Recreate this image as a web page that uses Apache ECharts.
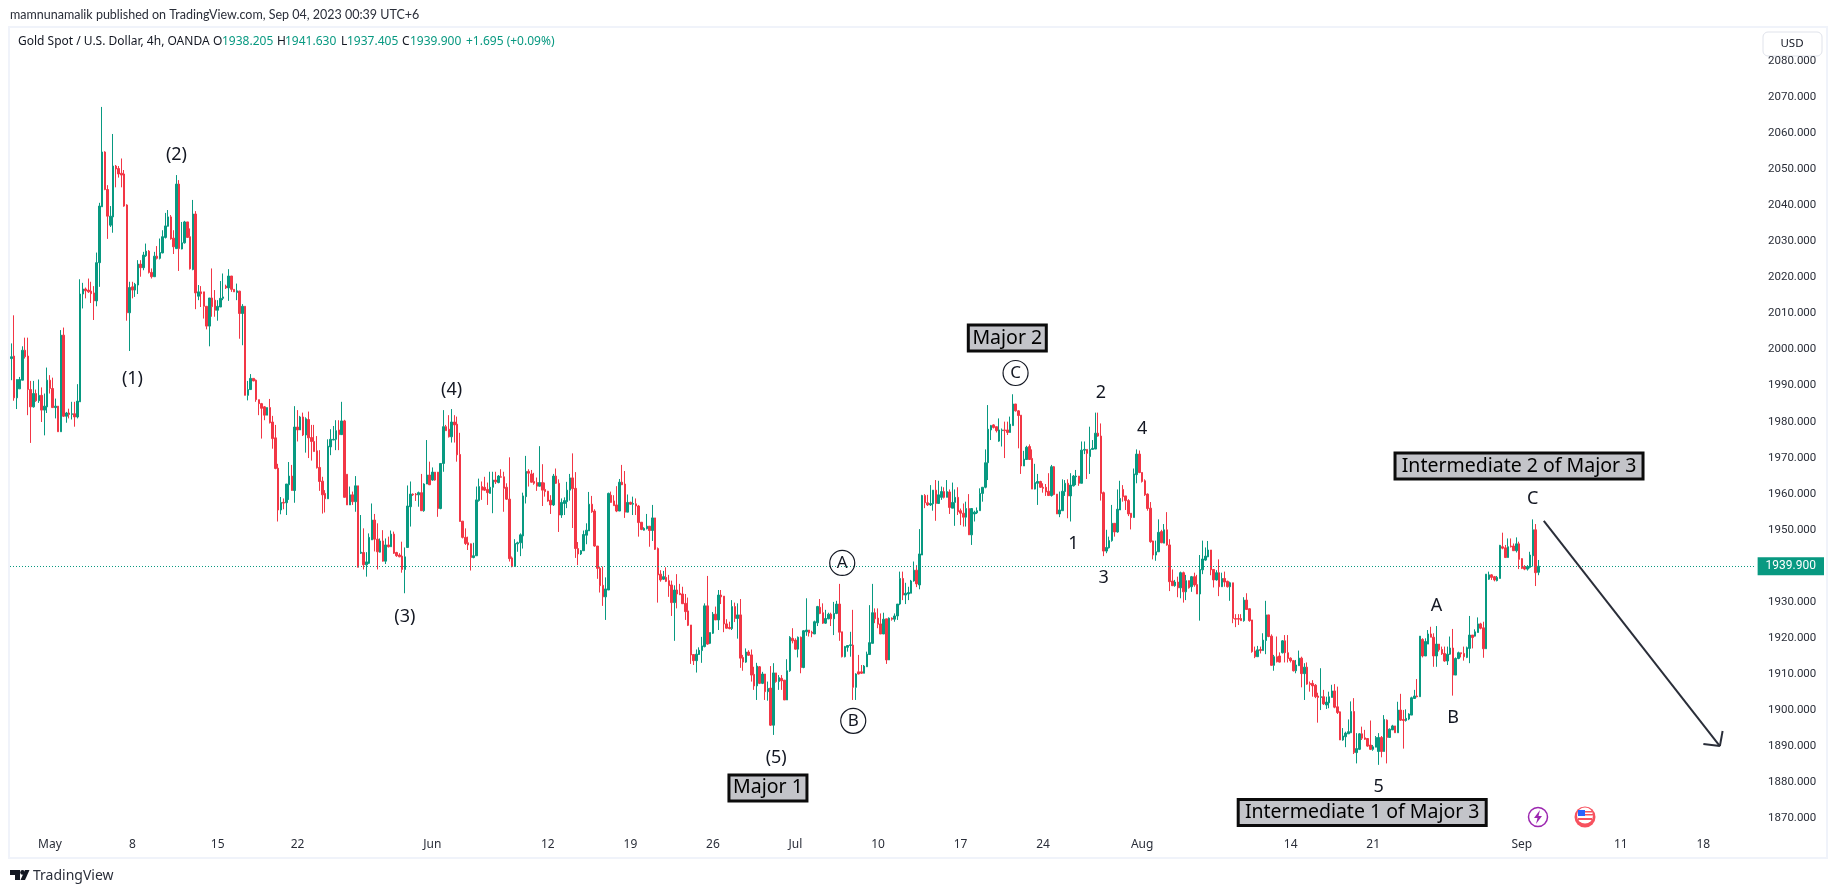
<!DOCTYPE html>
<html><head><meta charset="utf-8">
<style>html,body{margin:0;padding:0;background:#fff}#c{width:1835px;height:893px}</style>
<script src="https://cdn.jsdelivr.net/npm/echarts@6/dist/echarts.min.js"></script>
</head><body><div id="c"></div>
<script>
// candle rows: [open, close, low, high]
const barsMay=[[1997.5,1998,1991.5,2001.7],[1998.2,1986.6,1985.8,2009.5],[1986.6,1991.7,1983.5,1991.7],[1989.1,1991.7,1989.1,1992.4],[1991.5,1999.8,1991.5,2000.9],[1999.8,1998,1997.5,2003.3],[1998.2,1988.9,1981.8,2003.3],[1988.9,1984.1,1974.1,1991.3],[1984.1,1987.8,1983.9,1991.3],[1987.8,1985.8,1985.5,1988.9],[1985.8,1987.3,1985.2,1991.7],[1987.3,1983.2,1979.9,1989.5],[1983.2,1984.3,1976.2,1987.8],[1984.1,1991.5,1982.4,1995],[1991.5,1989.2,1987.8,1992.9],[1989.2,1983.9,1983.9,1992.2],[1983.9,1984.3,1980.9,1986.4],[1984.3,1977.2,1977.2,1984.3],[1977.2,2004,1977.2,2005.4],[2004,1981.5,1981.3,2006.1],[1981.5,1982.4,1979.7,1982.7],[1982.4,1982,1980.9,1983.6],[1982,1982.2,1980.6,1985.5],[1982.2,1981.3,1978.6,1985.5],[1981.3,1985.7,1980.9,1990.4],[1985.5,2015.4,1985.5,2019.5],[2015.4,2016.8,2011.4,2018.5],[2016.8,2016.3,2014.2,2017.2],[2016.5,2016,2015.7,2019.7],[2016.2,2015.5,2012.9,2018.8],[2015.7,2013.5,2008.2,2017.6],[2013.5,2024.1,2012,2026.9],[2024.1,2039.8,2017.4,2040.7],[2039.6,2054.8,2039.6,2067.3],[2054.8,2044.4,2044.2,2055],[2044.4,2037,2030.7,2045.6],[2034.5,2037,2034,2039.8],[2036.8,2050.9,2032.4,2059.8],[2050.9,2050.1,2045,2051.2],[2050.2,2048.7,2047.7,2050.9],[2048.9,2048.4,2045,2053],[2048.7,2039.8,2039.6,2049.8],[2040.1,2010.2,2008,2040.3],[2010.2,2017.2,1999.6,2018.8],[2017.4,2016.5,2014.2,2018.8],[2016.5,2018.1,2014.6,2018.5],[2017.9,2023.7,2015.4,2024.8],[2023.7,2022.7,2020.2,2024.8],[2022.7,2026.2,2022,2027.1],[2026,2027.3,2025.7,2029.4],[2027.3,2021.4,2021.1,2027.6],[2021.4,2020.2,2019.7,2022.5],[2020.2,2025.9,2020.2,2027.1],[2025.9,2025.3,2025,2028.7],[2025.3,2026.9,2025,2030.8],[2026.8,2031.3,2026.7,2033.1],[2031.1,2034.3,2030.8,2037.9],[2034.2,2036.8,2034.1,2038.7],[2036.8,2030.7,2030.5,2037.3],[2030.9,2028.5,2026.5,2033.1],[2028,2045.9,2028,2048.4],[2045.9,2028,2021.8,2047],[2027.9,2029.6,2027.8,2035.4],[2029.6,2035.4,2029.4,2035.7],[2035.4,2031.1,2031.1,2035.4],[2031.3,2022.4,2022.2,2033.6],[2022.2,2037.6,2022,2041.5],[2037.6,2015.7,2011.2,2038.4],[2014.8,2016,2013.7,2017.9],[2016,2015.5,2011.8,2017.6],[2016,2012,2008.6,2016],[2012,2006.5,2005.6,2012],[2006.5,2014.3,2000.9,2014.3],[2014.3,2011.9,2009.1,2022.5],[2013.7,2010.9,2009.1,2016.5],[2010.9,2012,2008,2013.7],[2011.8,2014.2,2011.8,2019],[2014.2,2014.6,2013.7,2021.1],[2017.6,2017.1,2016.8,2018],[2017.1,2020.4,2013.5,2022.3],[2020.4,2016.7,2016,2020.4],[2016.7,2016,2016,2016.7],[2015.8,2016.3,2013.7,2018.3],[2016.2,2010,2003,2016.3],[2010,2012,2001.2,2012.6],[2012,1987.3,1987.3,2012],[1987.3,1988.9,1985.9,1991.3],[1988.9,1992,1988.9,1993.2],[1992,1991.3,1991.2,1992],[1991.5,1986.1,1985.5,1991.7],[1986.1,1985,1981.8,1986.1],[1985,1983.7,1975.3,1985.2],[1984.1,1981.8,1980.4,1984.3]];
const barsJun=[[1981.8,1983.9,1981.8,1983.9],[1983.9,1979.7,1979.5,1986.3],[1979.9,1975.3,1972.5,1981.6],[1975.5,1967,1966.8,1979.1],[1967.1,1955.5,1952.3,1968.3],[1955.5,1957.6,1954.3,1959.1],[1957.6,1957.4,1955.7,1958.7],[1957.5,1962.7,1954.1,1962.7],[1962.5,1964.9,1958.3,1968.8],[1964.9,1960.9,1960.9,1968],[1960.9,1978.5,1957.5,1984.3],[1978.5,1977.7,1974.5,1983.2],[1977.7,1981.3,1977.7,1981.6],[1981.3,1976.3,1976,1982.5],[1976.3,1980.8,1971.4,1981.2],[1980.6,1975.5,1969.9,1982.8],[1975.6,1974.5,1969.2,1979.1],[1974.5,1971.7,1971.7,1979.1],[1971.9,1967.2,1967,1976],[1967.3,1963.4,1960.8,1972.1],[1963.5,1959.7,1954.5,1964.7],[1960.1,1958.6,1954.8,1961],[1958.6,1973.2,1958.6,1975.1],[1973,1975.1,1970.7,1977.9],[1974.9,1975.1,1974.9,1978.8],[1975.1,1977.5,1972.1,1980.4],[1977.7,1976.4,1972.1,1980.4],[1976.4,1980.2,1976.4,1985.5],[1980.2,1959,1959,1980.5],[1965.4,1956.9,1956.9,1965.4],[1956.9,1959.7,1956.9,1962],[1959.7,1957.8,1956.9,1960.6],[1957.8,1962.2,1955,1964.9],[1962.2,1939.6,1939.6,1962.2],[1943.5,1943.8,1943.3,1954.1],[1943.7,1940.3,1939,1950.4],[1940.3,1941.1,1937,1943.8],[1940.7,1947.9,1940.5,1949],[1947.2,1952.7,1947.2,1957.3],[1952.7,1947.4,1944,1954.4],[1947.4,1943.9,1939,1951.8],[1943.8,1946.9,1943.7,1947.6],[1946.9,1941.3,1941.2,1949.9],[1941.3,1945.8,1940.5,1947.6],[1945.8,1945.3,1945.1,1948.1],[1945.3,1948.8,1945.3,1949.8],[1948.8,1943.5,1943.3,1949.5],[1943.7,1942.8,1942.5,1943.9],[1943,1942.5,1942.4,1943.5],[1942.7,1939,1938.1,1946.7],[1939,1942.5,1932.4,1945.1],[1945.1,1956.6,1945.1,1962.3],[1956.4,1959.9,1950.9,1963.4],[1959.9,1959.7,1959.4,1960.1],[1959.9,1959.7,1958,1960.2],[1959.7,1960.3,1956.4,1960.6],[1960.3,1955.3,1955.3,1965.5],[1955.3,1962.7,1955,1962.9],[1962.7,1965.2,1962.7,1974.9],[1965.2,1962.5,1962.4,1968.9],[1963.8,1966,1963.6,1967.3],[1966,1963.8,1963.6,1966],[1966,1955.9,1953.6,1966],[1955.9,1968.4,1955.7,1968.4],[1968.4,1978.6,1966.1,1983.2],[1978.6,1977.5,1977.5,1979.1],[1977.9,1975.8,1975.6,1981.8],[1975.8,1979.9,1974.2,1983.5],[1979.9,1979.1,1974.2,1981.8],[1979.3,1970.8,1968.9,1981.4],[1970.9,1952.3,1952.3,1976.9],[1952.4,1947.9,1947.6,1952.4],[1947.9,1946.2,1945.8,1950.4],[1946.4,1945.8,1944.4,1948.1],[1946.1,1942.3,1938.7,1946.2],[1942.3,1942.8,1942.1,1946.4],[1942.8,1958.3,1942.8,1962],[1958.1,1962,1957.8,1964.2],[1962,1961,1958.3,1963.4],[1961.8,1961,1960.8,1964.7],[1961.2,1960.3,1956.9,1963.1],[1960.1,1961.8,1960.1,1966.1],[1961.8,1963.8,1954.6,1966.1],[1963.8,1963.3,1962.7,1966.1],[1963.1,1964.9,1962.9,1965.2],[1964.7,1964.6,1964.5,1966.8],[1964.7,1961.5,1955,1966.1],[1961.8,1958.5,1958.3,1962.9],[1958.5,1942,1941.2,1970.1],[1942.2,1939.8,1939.6,1942.6],[1939.8,1946.2,1939.8,1947.4],[1946.1,1946.4,1943.9,1946.7],[1946.4,1948.6,1942.7,1949],[1948.3,1959.4,1944.8,1960.3]];
const barsLateJun=[[1959.2,1966.2,1957.3,1970.5],[1966.2,1965.7,1962,1966.8],[1965.5,1963.2,1963.1,1966.6],[1963.4,1962.9,1962.5,1965.8],[1963.1,1962.1,1960.8,1964.5],[1962.1,1963.1,1962,1973.2],[1963.1,1961,1956.6,1968.2],[1961.2,1960.6,1959.2,1963.1],[1960.7,1958,1957.8,1960.8],[1958.2,1956.9,1954.4,1959.6],[1956.9,1964.9,1956.6,1965.5],[1964.9,1962.9,1962.7,1967],[1962.9,1954.1,1949.4,1964],[1954.1,1957.6,1953.3,1958.7],[1957.3,1958.1,1954.1,1959],[1957.8,1961,1956,1963.3],[1961,1964.4,1958.1,1965.5],[1964.4,1961.4,1950.5,1971.2],[1961.5,1944.8,1942.2,1966],[1944.8,1943.3,1940.2,1946.6],[1943.3,1944.2,1943,1944.4],[1944.2,1948.7,1944.2,1949.8],[1948.5,1949.9,1946,1951.8],[1949.7,1957.1,1949.7,1960.5],[1957.1,1955,1954.7,1959.4],[1955.2,1945.5,1945.3,1955.7],[1945.5,1939.3,1936.4,1945.5],[1939.3,1934.5,1932.6,1939.8],[1934.6,1931.4,1928.9,1939.8],[1931.4,1933.6,1925,1936.8],[1933.3,1960.1,1933.3,1960.3],[1959.6,1957.6,1957.5,1960.6],[1958,1956.7,1956.7,1959.6],[1956.9,1955.2,1954.9,1962.1],[1955.2,1963.2,1955.2,1964.1],[1963.2,1962.5,1962.4,1968],[1962.7,1954.9,1953.3,1966.3],[1954.9,1957.6,1954.9,1959.8],[1957.6,1957.1,1956.9,1957.8],[1957.1,1957.3,1954.1,1959.2],[1957.2,1956.6,1954.1,1958.7],[1956.6,1952,1948.1,1956.9],[1952.1,1950.1,1949.9,1952.1],[1949.9,1950.4,1949.8,1950.7],[1950.3,1951,1950.1,1954.4],[1951,1949.8,1945.3,1951],[1949.8,1953.3,1946.9,1956.9],[1953.3,1944.6,1944.4,1953.3],[1944.8,1937.5,1929.8,1945.1],[1937.7,1936.1,1935.6,1938.8],[1936.3,1937,1936.1,1938.6],[1936.8,1935.7,1935.5,1939.6],[1935.9,1934.5,1931.4,1937.5],[1934.7,1929.8,1926.1,1935.9],[1929.8,1933.3,1919.2,1934.6],[1933.3,1932.2,1928.2,1937.7],[1932.4,1932,1931.9,1935],[1932.2,1929.5,1929.4,1934.2],[1929.6,1927.3,1925,1932.2],[1927.5,1923.5,1923.3,1931.2],[1923.6,1915.3,1912.8,1923.6],[1915.4,1913.7,1912.5,1915.4],[1913.7,1915.5,1910.4,1916.8],[1915.4,1916.6,1915.3,1917.4],[1916.5,1917.8,1913.1,1920.3],[1917.6,1928.9,1917.4,1929.6],[1928.9,1918.3,1918.1,1937.2],[1918.5,1921.5,1918.3,1921.5],[1921.3,1926.6,1921.1,1927.2],[1926.6,1925,1925,1928.7],[1925,1931.9,1922.2,1933.3],[1931.9,1931.4,1929.4,1933.3],[1931.6,1923.9,1921.6,1931.6],[1923.9,1922.7,1922.6,1925.2],[1922.9,1922.6,1922.4,1924.5],[1922.6,1928.7,1922.2,1930.5],[1928.7,1925.4,1924.4,1929.8],[1925.4,1926.4,1919.8,1929.6],[1926.4,1914.4,1911.7,1930.8],[1914.6,1913.3,1910.9,1915.3],[1913.3,1916.1,1913.1,1917.1],[1916.1,1915.2,1915,1916.6],[1915.3,1909.7,1907.9,1916.8],[1909.9,1906.7,1905.6,1912],[1906.7,1912.2,1902.8,1913.1],[1912,1907.4,1907.2,1912.2],[1907.4,1910,1907.2,1910.6],[1910,1905.1,1902.8,1910],[1905.1,1906,1902.6,1907.9],[1906.1,1895.8,1895.6,1912.2],[1895.8,1910.3,1893.1,1913],[1910.3,1907.9,1907.6,1910.3]];
const barsJul=[[1907.9,1909,1905.6,1909.7],[1908.8,1908.1,1905.6,1909.7],[1908.3,1902.8,1902.8,1908.3],[1902.8,1910.9,1902.8,1914.1],[1910.9,1920.2,1910.6,1920.5],[1919.9,1919.2,1918.5,1922.7],[1919.4,1916.9,1916.8,1919.9],[1916.9,1920.2,1914.6,1920.4],[1920.2,1911.8,1910.2,1920.4],[1911.8,1922,1911.6,1922.2],[1921.7,1922.2,1920.6,1931],[1922.2,1921.4,1920.4,1922.2],[1921.6,1921.3,1920.2,1922],[1921.1,1924.5,1921.1,1924.8],[1924.2,1928.7,1923.3,1928.9],[1928.5,1926.8,1926.6,1930.8],[1927,1924.1,1923.9,1929.6],[1924.1,1925.4,1923.9,1927.8],[1925.3,1926.6,1925.2,1927],[1926.6,1925.3,1923.3,1927],[1925.3,1926.8,1920.8,1930],[1926.8,1929.4,1926.6,1930.3],[1929.4,1921.6,1919.2,1935],[1921.7,1914.8,1914.6,1921.7],[1914.8,1917.6,1914.6,1917.8],[1917.4,1917.9,1916.2,1918],[1917.9,1918.1,1914.8,1921.7],[1918,1906.3,1902.8,1927.8],[1906.3,1910,1902.8,1910.2],[1910.6,1910,1909.9,1915.3],[1910.6,1910.2,1910,1912.5],[1910.2,1912.2,1910.2,1912.5],[1912,1915.5,1912,1916.2],[1915.4,1918.7,1915.3,1929.1],[1918.5,1927,1918.5,1935],[1927,1925.3,1924.1,1928.2],[1925.5,1923.8,1922.7,1928.2],[1923.9,1921.1,1921.1,1926.8],[1921.1,1925.2,1921.1,1927],[1925.3,1913.9,1912.8,1925.3],[1913.9,1925.5,1913.9,1925.7],[1925.5,1925.2,1924.8,1925.7],[1925.2,1926.1,1924.5,1926.8],[1926.1,1929.4,1925,1929.4],[1929.4,1936.5,1929.1,1938.4],[1936.5,1931.9,1930.5,1938.4],[1931.9,1932.4,1929.4,1935.3],[1932.2,1932.6,1930.5,1934.2],[1932.4,1935.8,1932.4,1936.1],[1935.8,1938.8,1935.6,1941.2],[1938.8,1935,1934.1,1940.2],[1934.7,1943.3,1933.5,1950.2],[1943,1959.5,1943,1959.7],[1959.5,1957.5,1956,1959.9],[1957.5,1956.9,1956.6,1959.7],[1956.9,1957.3,1956.6,1962.4],[1957.2,1961,1955.3,1961],[1961,1957.3,1952.5,1963.8],[1957.3,1959.7,1957.3,1963.6],[1959,1960.6,1958.3,1962],[1960.6,1959,1958.7,1961.8],[1959,1960.6,1959,1963.8],[1960.5,1956.2,1954.4,1961.2],[1956,1957.6,1956,1963.1],[1957.6,1959,1951.1,1961.2],[1959,1955,1954.1,1961.8],[1955.3,1954.6,1951.3,1955.9],[1954.6,1953.5,1950.9,1957.3],[1953.5,1955.9,1950.9,1957.8],[1955.9,1948.6,1948.6,1959.9],[1948.6,1955.9,1945.8,1955.9],[1954.4,1954.9,1952.3,1955.3],[1954.7,1955.3,1954.4,1956.2],[1955.3,1960.1,1955.3,1961.5],[1960.1,1961.8,1957.8,1961.8],[1961.8,1968.6,1961.5,1972.3],[1968.6,1977.9,1963.8,1984.6],[1977.7,1978.9,1974.9,1979.1],[1979.1,1978.4,1978.1,1979.3],[1978.6,1977.5,1977,1978.6],[1974.6,1977.7,1974.4,1980.9],[1977.5,1977.7,1973.1,1978.1],[1977.7,1977.5,1969.9,1980],[1977.7,1977,1976.3,1980],[1977,1979.3,1977,1981.4],[1978.9,1984.9,1978.9,1987.6],[1984.9,1983,1982.8,1984.9],[1983,1981.7,1972.6,1983.2],[1981.8,1967.7,1965.5,1981.8],[1967.7,1969.6,1967.7,1971.9],[1969.5,1972.9,1969.5,1973.3],[1973.1,1969.5,1969.4,1973.7]];
const barsAug=[[1969.8,1961.3,1961.3,1972.3],[1961.3,1963.1,1961.2,1968.3],[1962.9,1963.4,1956.9,1965.5],[1963.4,1961.8,1961.6,1963.6],[1961.8,1961.5,1960.3,1962.9],[1961.8,1960.5,1959.4,1962.7],[1960.7,1959.5,1959.4,1965.7],[1959.5,1967.5,1959.2,1968],[1967.5,1959.8,1959.6,1967.7],[1959.9,1954.4,1954.4,1959.9],[1954.4,1955.5,1953.5,1960.6],[1955.3,1960.7,1955.3,1964],[1960.6,1962.9,1959.4,1963.8],[1962.9,1959.4,1953.2,1964],[1959.4,1962.4,1952.3,1965.7],[1962.2,1964.9,1962,1965.2],[1964.7,1964.9,1962.4,1966.6],[1964.9,1962.9,1962.2,1964.9],[1962.9,1972.1,1962.9,1974.5],[1972.1,1972.3,1971,1974.5],[1972.3,1971.2,1964.1,1972.3],[1970.3,1972.3,1965.5,1978.6],[1972.3,1972.6,1972.3,1974.9],[1972.4,1976.8,1972.4,1982.5],[1976.8,1976,1975.8,1982.5],[1976,1960.1,1958.1,1979.5],[1960.3,1944.1,1942.7,1960.6],[1944.1,1945.1,1943.5,1950],[1945,1947,1944.8,1948.1],[1947,1951.8,1946.7,1956.9],[1951.8,1949.4,1948.1,1951.8],[1949.4,1955.7,1949.2,1961.2],[1955.5,1958.7,1955.5,1963.6],[1961.2,1959.2,1957.8,1962.4],[1959.4,1958.1,1955.5,1959.4],[1958.1,1954.4,1953.8,1958.5],[1954.6,1953.4,1950.1,1954.6],[1953.4,1965.5,1953.4,1967],[1965.3,1971,1962.9,1972.3],[1971,1965.9,1965.7,1972],[1965.9,1963.4,1963.1,1965.9],[1963.6,1959.7,1959.4,1964],[1959.9,1955.9,1955.3,1960.1],[1956,1946.7,1946.4,1957.7],[1946.9,1943,1941.8,1947],[1943,1943.9,1941.4,1947],[1943.9,1949.3,1943.9,1952.9],[1949.5,1946.4,1946.3,1950],[1946.3,1950,1946.3,1951.6],[1950,1945.8,1945.6,1954.9],[1945.8,1935.6,1933,1947.4],[1935.8,1934.5,1934.4,1939],[1934.5,1935.5,1934.2,1936.1],[1935.5,1933.9,1931.3,1937],[1933.9,1938.1,1931,1938.4],[1938.1,1932.8,1929.8,1938.4],[1932.8,1935.9,1930.5,1937.5],[1935.9,1933.9,1933.7,1935.9],[1934.2,1937,1932.8,1937.2],[1937,1934.7,1934.2,1938.1],[1934.8,1932.2,1932.2,1937.5],[1932.2,1939,1924.8,1943],[1938.9,1941.9,1937.7,1947],[1941.6,1942.7,1941.4,1945.1],[1942.5,1944.4,1942.4,1946.9],[1944.4,1938.9,1937.4,1944.4],[1939,1936.1,1934,1939],[1936.1,1938.1,1935.9,1938.8],[1938.1,1934.2,1931.6,1941.8],[1934.2,1936.5,1934.2,1938.1],[1936.5,1935.5,1934.2,1938.4],[1935.7,1934.2,1934,1935.9],[1934.2,1935.3,1930.3,1935.6],[1935.3,1925.4,1924.1,1935.3],[1925.4,1925.2,1923,1926.6],[1925.4,1925.2,1923.6,1926.6],[1925.4,1924.8,1924.8,1926.6],[1924.8,1930.5,1924.5,1931.3],[1930.5,1927.9,1927.8,1932.4],[1928.1,1924.8,1924.5,1928.2],[1925,1916.2,1915.9,1925],[1916.4,1914.8,1914.4,1917.6],[1914.8,1916.7,1914.8,1917.8],[1916.8,1916.5,1915.7,1917.6],[1916.5,1919.4,1916.5,1921.3],[1919.3,1926.4,1915.5,1930.3],[1926.4,1920.4,1920.2,1926.4],[1920.5,1912.4,1912.3,1921],[1912.4,1914.8,1910.9,1915.3],[1914.8,1913.4,1913.2,1920.4],[1915,1913.3,1913.2,1916],[1915.9,1919.2,1915.7,1919.4]];
const barsLateAug=[[1919.2,1915.9,1913.2,1920.8],[1915.9,1914.3,1913.2,1920.8],[1914.4,1913.7,1913.2,1914.6],[1913.7,1910.9,1910.7,1913.9],[1910.9,1912.5,1910.2,1913.9],[1912.3,1914.4,1912.3,1916.5],[1914.4,1910.1,1906.3,1914.8],[1910.1,1911.9,1902.8,1913],[1911.9,1907.2,1907,1913.2],[1907.4,1907.1,1905.1,1907.9],[1907.4,1906.7,1903.7,1908.3],[1906.9,1903.7,1903.3,1907.2],[1903.9,1903.5,1896.5,1904.8],[1903.5,1903.7,1900,1911.6],[1903.7,1901.7,1901.4,1905.6],[1901.4,1902.2,1900.3,1903.7],[1902,1903.7,1900.5,1905.1],[1903.5,1905.3,1903.5,1907],[1905.3,1900.8,1900.5,1907.2],[1900.9,1899.3,1898.9,1906.5],[1899.5,1891.7,1891.7,1899.6],[1891.7,1892.8,1891.5,1895],[1892.6,1893.6,1889.7,1894],[1893.4,1894,1893.4,1897.4],[1893.7,1899.6,1893.6,1902.4],[1899.6,1888.2,1887.8,1903.3],[1888.2,1889.3,1885.2,1893.6],[1889.1,1893.4,1888.9,1893.6],[1893.4,1892.2,1891.7,1895.4],[1892.3,1891.9,1891.7,1894.5],[1892.1,1890,1889.8,1892.2],[1890.3,1889.1,1888.9,1897.1],[1889.1,1889.8,1888.7,1890.3],[1889.7,1892.4,1889.7,1892.8],[1888.5,1892.4,1884.8,1893.6],[1892.4,1888.5,1886.9,1892.8],[1888.5,1897.4,1888.5,1898.6],[1897.2,1892.4,1885.2,1897.4],[1892.4,1894.7,1892.4,1894.9],[1894.5,1895.6,1894.5,1895.9],[1895.6,1893.7,1893.7,1895.6],[1893.7,1900,1893.7,1902.3],[1900,1897.2,1897,1904.5],[1897.4,1897.1,1889.3,1900],[1897.1,1897.7,1896.8,1900.2],[1897.5,1898.9,1897.2,1899.1],[1898.6,1903.4,1898.6,1903.7],[1903.2,1903.9,1903.2,1905.6],[1903.9,1903.7,1903.5,1908.6],[1903.7,1920.5,1903.7,1920.5],[1919.6,1915,1914.6,1919.9],[1915,1919,1915,1919.9],[1918.3,1921.1,1918.3,1922.2],[1921.1,1920.2,1920.2,1923.1],[1920.2,1915,1912,1921.3],[1915,1918.3,1912,1923.3],[1918.3,1916.7,1916.2,1918.3],[1916.8,1915.6,1915.3,1917.6],[1915.7,1913.6,1913.4,1917.6],[1913.6,1915.5,1912.5,1917.6],[1915.5,1917.2,1915.3,1920.4],[1917.2,1909.7,1904,1922.5],[1909.7,1914.3,1909.7,1914.6],[1914.3,1915.9,1914.1,1916.2],[1915.9,1915.6,1914.6,1915.9],[1915.7,1914.8,1913.7,1917.6],[1914.6,1917.3,1914.4,1917.6],[1917.1,1920.8,1913,1926.1],[1920.8,1920.1,1917.1,1920.8],[1920.5,1921.7,1920.4,1922.4],[1921.5,1923.9,1921.5,1925.7],[1923.9,1922.7,1922.4,1924.2],[1922.8,1917,1914.5,1924.5],[1917,1937.7,1917,1937.7],[1936.3,1937.5,1936.1,1938.4],[1937.5,1936.8,1936.1,1937.7],[1937,1936.1,1935.7,1937.2],[1935.9,1936.8,1935.7,1937.2],[1936.5,1945.7,1936.5,1945.8],[1945.3,1944.9,1944.6,1949.2],[1945,1942.3,1942.3,1945.8],[1942.3,1945.3,1942.3,1947.6],[1945.5,1945.3,1945.1,1947.6],[1945.5,1944.2,1944.2,1946.2],[1944.2,1946.1,1943.7,1947.9],[1946.1,1941.8,1939.1,1946.7],[1942,1939.3,1939.1,1942.1],[1939.8,1939.1,1938.8,1940.2],[1939.1,1939.8,1938.7,1940.2],[1939.6,1943,1939.3,1943.9],[1942.8,1950,1939.8,1952.9],[1950,1938.1,1934.4,1951.6],[1938.205,1939.9,1937.405,1941.63]];
const candles=[...barsMay,...barsJun,...barsLateJun,...barsJul,...barsAug,...barsLateAug];

const tickLabels=['May','8','15','22','Jun','12','19','26','Jul','10','17','24','Aug','14','21','Sep','11','18'];
const tickBars=[14,44,75,104,153,195,225,255,285,315,345,375,411,465,495,549,585,615];
const slotCount=635;
const lastPrice=1939.9;

// annotation anchors: text, bar slot, price
const waveLabels=[['(1)',44,1991.8],['(2)',60,2053.9],['(3)',143,1925.9],['(4)',160,1988.7],['(5)',278,1886.6],['1',386,1946],['2',396,1988],['3',397,1936.7],['4',411,1978],['5',497,1878.7],['A',518,1928.9],['B',524,1897.8],['C',553,1958.6]];
const circleLabels=[['A',302,1940.8],['B',306,1897],['C',365,1993.5]];
const boxLabels=[['Major 1',275,1878.4],['Major 2',362,2003.2],['Intermediate 2 of Major 3',548,1967.7],['Intermediate 1 of Major 3',491,1871.6]];
const arrowLines=[[[557,1952.5],[621,1890]],[[621,1890],[622,1894.2]],[[621,1890],[615,1890.6]]];

const UP='#089981',DOWN='#f23645',INK='#131722';
const FONT='"Noto Sans","Open Sans",sans-serif';
const cats=Array.from({length:slotCount},(_,i)=>{const k=tickBars.indexOf(i);return k>=0?tickLabels[k]:'';});

const markPoints=[
 ...waveLabels.map(([t,x,y])=>({coord:[x,y],symbol:'circle',symbolSize:1,itemStyle:{color:'transparent'},
   label:{show:true,position:'inside',formatter:t,color:INK,fontSize:18,fontFamily:FONT}})),
 ...circleLabels.map(([t,x,y])=>({coord:[x,y],symbol:'circle',symbolSize:25,itemStyle:{color:'rgba(255,255,255,0)',borderColor:INK,borderWidth:1.2},
   label:{show:true,position:'inside',formatter:t,color:INK,fontSize:17,fontFamily:FONT}})),
 ...boxLabels.map(([t,x,y])=>({coord:[x,y],symbol:'circle',symbolSize:1,itemStyle:{color:'transparent'},
   label:{show:true,position:'inside',formatter:t,color:'#000',fontSize:19.5,fontFamily:FONT,backgroundColor:'#c3c4c9',borderColor:'#0b0b0b',borderWidth:3,
     width:t.length>10?245:75,height:23,lineHeight:23,align:'center',verticalAlign:'middle',padding:0}})),
];

const text=(x,y,str,color,size,extra)=>({type:'text',x,y,silent:true,style:Object.assign({text:str,fill:color,font:size+'px '+FONT,textVerticalAlign:'middle'},extra||{})});
const frame='#f0f3fa';
const graphics=[
 {type:'rect',shape:{x:8,y:27,width:2,height:831},style:{fill:frame},silent:true},
 {type:'rect',shape:{x:8,y:26,width:1818,height:2},style:{fill:frame},silent:true},
 {type:'rect',shape:{x:8,y:857,width:1820,height:2},style:{fill:frame},silent:true},
 {type:'rect',shape:{x:1826,y:26,width:2,height:833},style:{fill:frame},silent:true},
 text(10,15,'mamnunamalik published on TradingView.com, Sep 04, 2023 00:39 UTC+6','#2a2e39',12.5,{font:'12.5px Lato,sans-serif'}),
 text(18,42,'Gold Spot / U.S. Dollar, 4h, OANDA',INK,12),
 text(213,42,'O',INK,12),text(222,42,'1938.205',UP,12),
 text(277,42,'H',INK,12),text(285,42,'1941.630',UP,12),
 text(341,42,'L',INK,12),text(347,42,'1937.405',UP,12),
 text(402,42,'C',INK,12),text(410,42,'1939.900',UP,12),
 text(466,42,'+1.695 (+0.09%)',UP,12),
 {type:'rect',shape:{x:1763,y:32,width:59,height:24,r:5},style:{fill:'#fff',stroke:'#e0e3eb',lineWidth:1},silent:true},
 text(1792,44,'USD',INK,11.5,{textAlign:'center'}),
 // TradingView mark
 {type:'polygon',shape:{points:[[10,870],[20,870],[20,880],[15,880],[15,875],[10,875]]},style:{fill:INK},silent:true},
 {type:'circle',shape:{cx:22.5,cy:872.4,r:2.3},style:{fill:INK},silent:true},
 {type:'polygon',shape:{points:[[25,870],[29.5,870],[25,880],[20.5,880]]},style:{fill:INK},silent:true},
 text(33,876,'TradingView','#2a2e39',14),
 // event icons
 {type:'circle',shape:{cx:1538,cy:817,r:9.5},style:{fill:'#fff',stroke:'#9c27b0',lineWidth:1.5},silent:true},
 {type:'polygon',shape:{points:[[1540,810],[1534,818],[1537.5,818],[1536,824],[1542,816],[1538.5,816]]},style:{fill:'#9c27b0'},silent:true},
 {type:'circle',shape:{cx:1585,cy:817,r:10.5},style:{fill:'#f7525f'},silent:true},
 {type:'circle',shape:{cx:1585,cy:815.5,r:8},style:{fill:'#fff'},silent:true},
 {type:'rect',shape:{x:1578,y:810,width:7,height:6},style:{fill:'#2962ff'},silent:true},
 {type:'rect',shape:{x:1585,y:811,width:7,height:1.5},style:{fill:'#f7525f'},silent:true},
 {type:'rect',shape:{x:1585,y:814,width:8,height:1.5},style:{fill:'#f7525f'},silent:true},
 {type:'rect',shape:{x:1578,y:818,width:14,height:2},style:{fill:'#f7525f'},silent:true},
];

const chart=echarts.init(document.getElementById('c'),null,{renderer:'canvas'});
chart.setOption({
 animation:false,backgroundColor:'#fff',
 grid:{left:10,right:78,top:25.1,bottom:38.75,containLabel:false},
 xAxis:{type:'category',data:cats,boundaryGap:true,axisLine:{show:false},axisTick:{show:false},splitLine:{show:false},
  axisLabel:{inside:true,margin:4,interval:0,color:'#2a2e39',fontSize:12,fontFamily:FONT,hideOverlap:false,
   formatter:v=>v}},
 yAxis:{type:'value',position:'right',min:1860,max:2090,interval:10,scale:false,axisLine:{show:false},axisTick:{show:false},splitLine:{show:false},
  axisLabel:{margin:11,color:'#2a2e39',fontSize:11.5,fontFamily:'Roboto,"Noto Sans",sans-serif',align:'left',
   formatter:v=>(v===1860||v===2090)?'':v.toFixed(3)}},
 series:[{type:'candlestick',data:candles,barWidth:2,clip:true,silent:true,
  itemStyle:{color:UP,color0:DOWN,borderColor:UP,borderColor0:DOWN,borderWidth:1},
  markLine:{silent:true,symbol:['none','none'],animation:false,data:[
    [{yAxis:lastPrice,x:10,lineStyle:{color:UP,type:[1,2],width:1},
      label:{show:true,position:'end',distance:2,formatter:lastPrice.toFixed(3),color:'#fff',backgroundColor:UP,padding:[3,8],fontSize:12,fontFamily:'Roboto,"Noto Sans",sans-serif'}},
     {yAxis:lastPrice,xAxis:slotCount-1}],
    ...arrowLines.map(([a,b])=>[{coord:a,lineStyle:{color:'#2a2e39',type:'solid',width:2},label:{show:false}},{coord:b}])
  ]},
  markPoint:{silent:true,animation:false,data:markPoints}
 }],
 graphic:graphics
});
</script></body></html>
